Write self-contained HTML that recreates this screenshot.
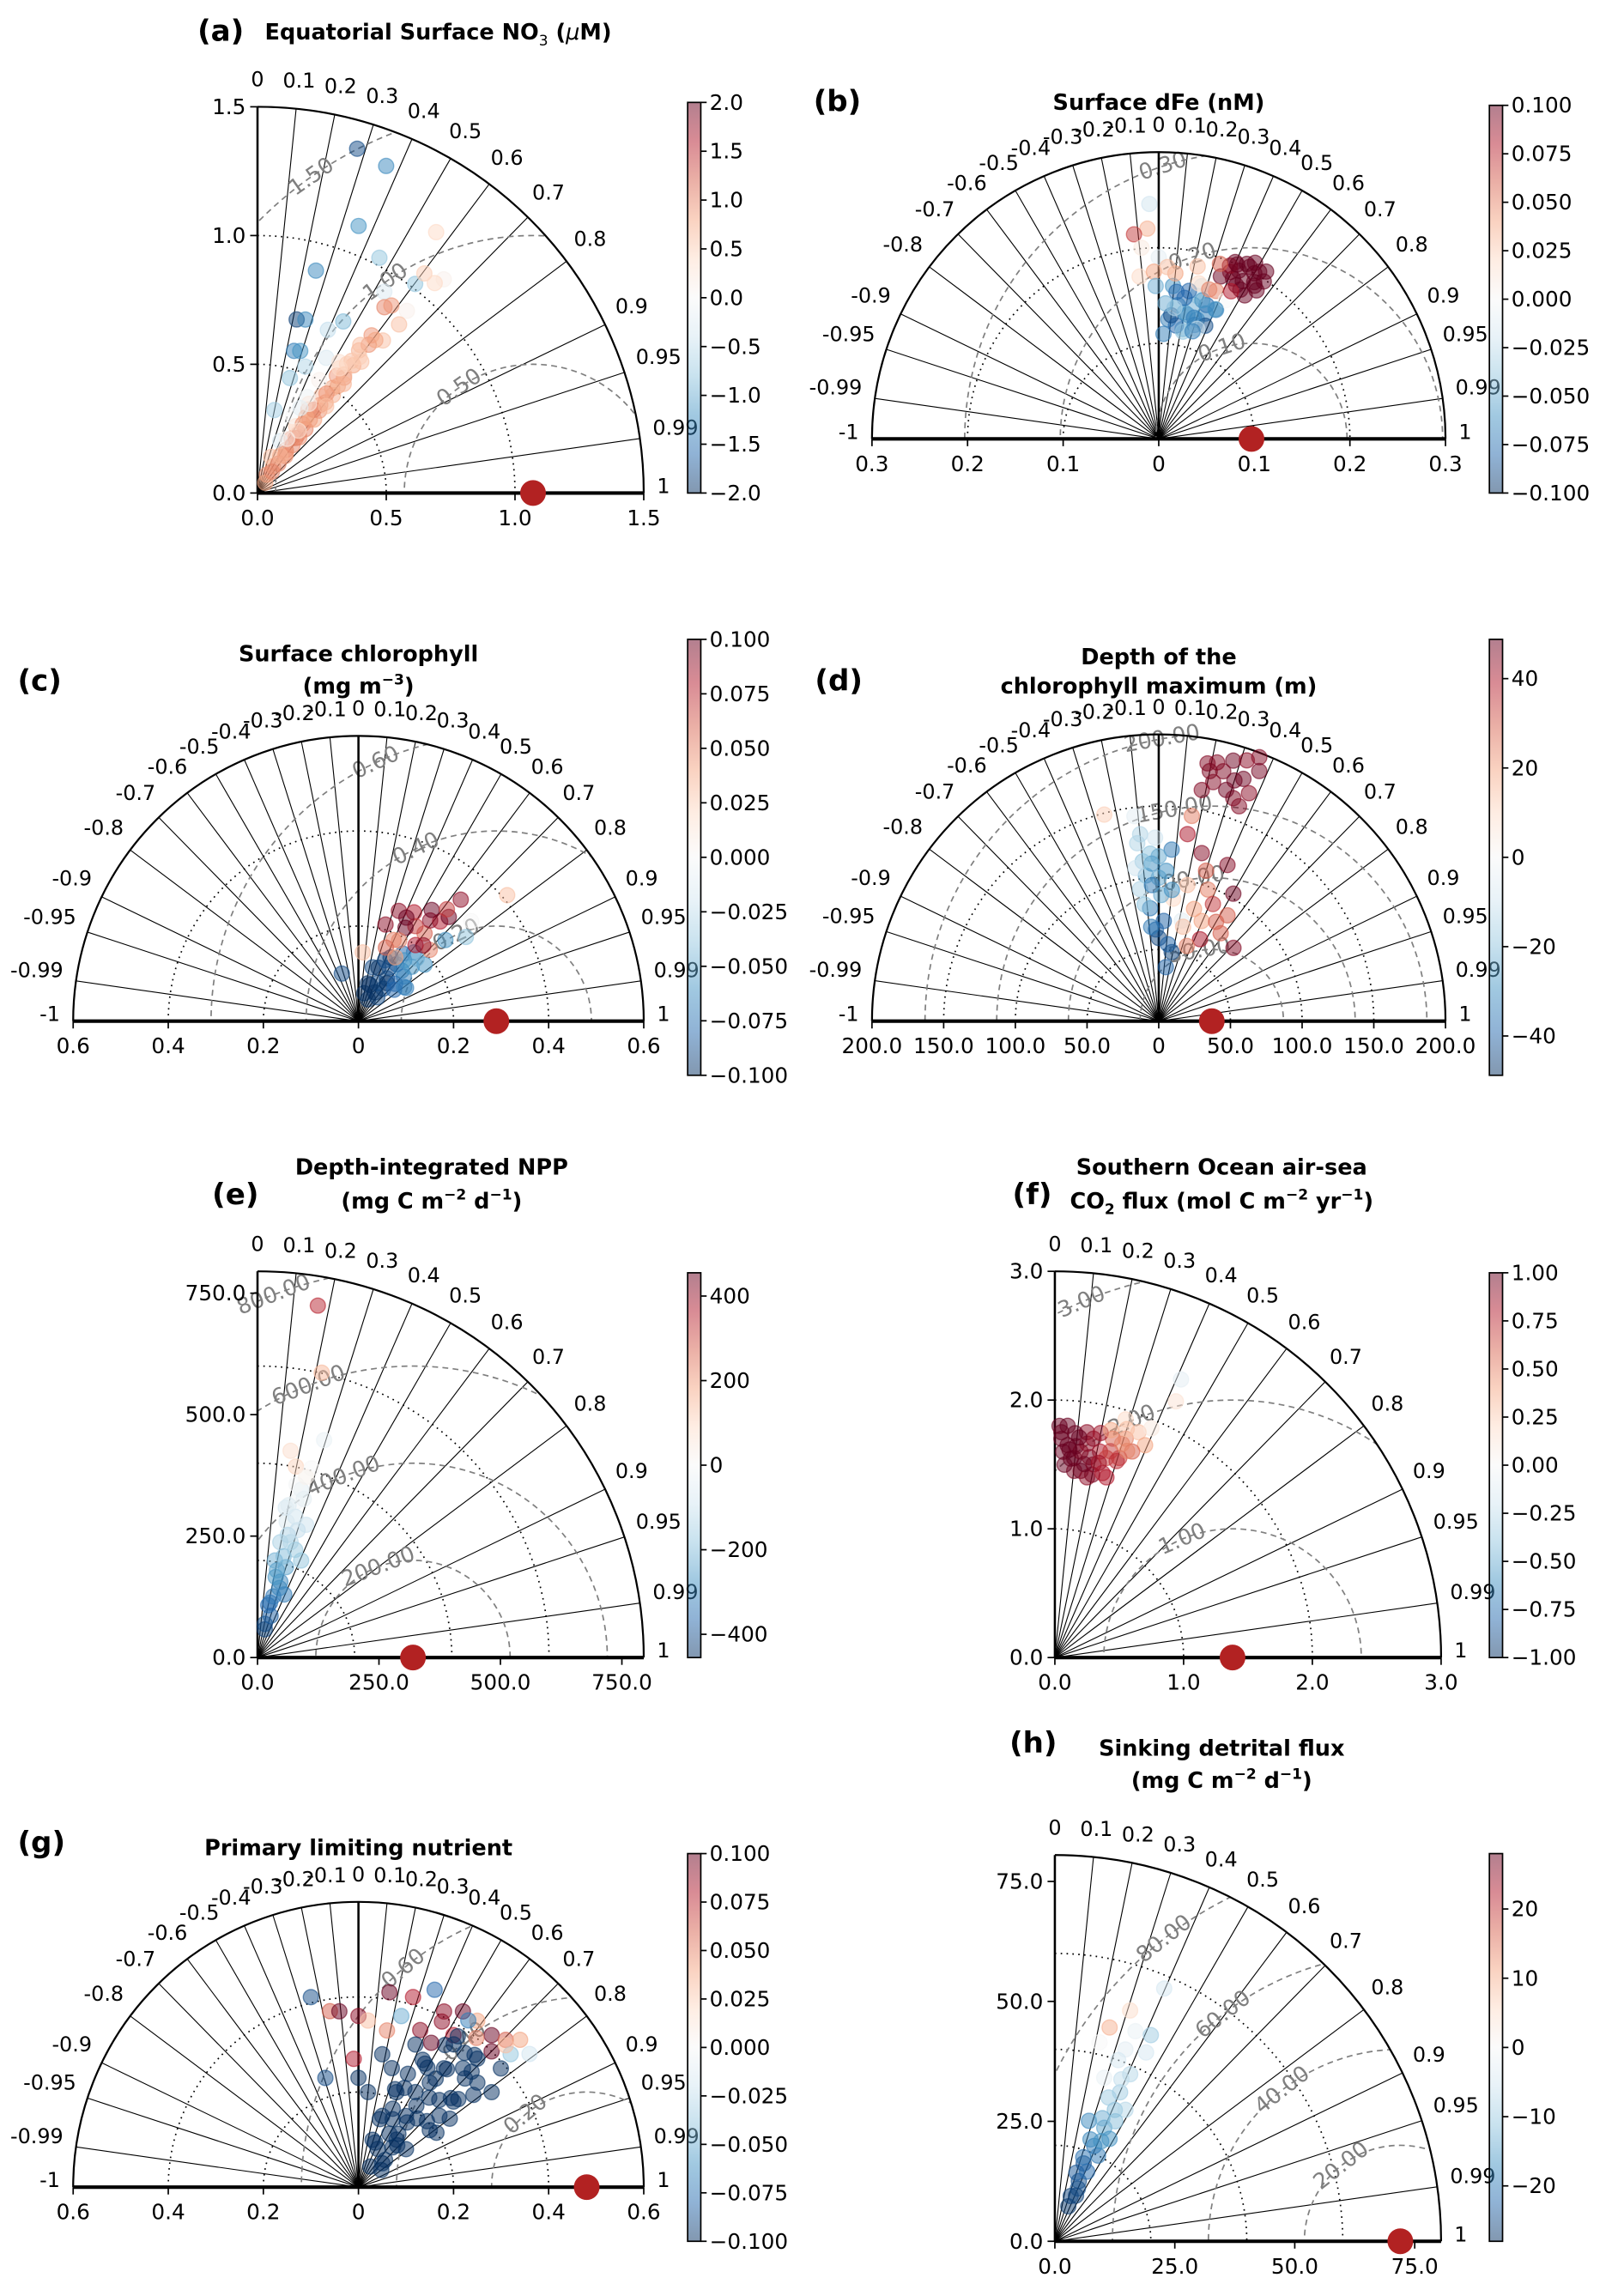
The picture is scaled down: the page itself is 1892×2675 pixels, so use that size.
<!DOCTYPE html>
<html><head><meta charset="utf-8">
<style>
html,body{margin:0;padding:0;background:#fff;width:1892px;height:2675px;overflow:hidden;}
svg{display:block;}
text{font-family:"DejaVu Sans","Liberation Sans",sans-serif;}
</style></head>
<body>
<svg id="fig" xmlns="http://www.w3.org/2000/svg" width="1892" height="2675" viewBox="0 0 1110 1569.4">
<g font-weight="bold" fill="#000">
  <text x="135" y="28" font-size="20">(a)</text>
  <text x="181" y="27" font-size="15">Equatorial Surface NO<tspan font-size="10" font-weight="normal" dy="4">3</tspan><tspan dy="-4"> (</tspan><tspan font-style="italic" font-weight="normal">μ</tspan>M)</text>
  <text x="556" y="76" font-size="20">(b)</text>
  <text x="792" y="75" font-size="15" text-anchor="middle">Surface dFe (nM)</text>
  <text x="12" y="472" font-size="20">(c)</text>
  <text x="245" y="452" font-size="15" text-anchor="middle">Surface chlorophyll</text>
  <text x="245" y="474" font-size="15" text-anchor="middle">(mg m<tspan font-size="10" dy="-6">−3</tspan><tspan dy="6">)</tspan></text>
  <text x="557" y="472" font-size="20">(d)</text>
  <text x="792" y="454" font-size="15" text-anchor="middle">Depth of the</text>
  <text x="792" y="474" font-size="15" text-anchor="middle">chlorophyll maximum (m)</text>
  <text x="145" y="823" font-size="20">(e)</text>
  <text x="295" y="803" font-size="15" text-anchor="middle">Depth-integrated NPP</text>
  <text x="295" y="826" font-size="15" text-anchor="middle">(mg C m<tspan font-size="10" dy="-6">−2</tspan><tspan dy="6"> d</tspan><tspan font-size="10" dy="-6">−1</tspan><tspan dy="6">)</tspan></text>
  <text x="692" y="823" font-size="20">(f)</text>
  <text x="835" y="803" font-size="15" text-anchor="middle">Southern Ocean air-sea</text>
  <text x="835" y="826" font-size="15" text-anchor="middle">CO<tspan font-size="10" dy="4">2</tspan><tspan dy="-4"> flux (mol C m</tspan><tspan font-size="10" dy="-6">−2</tspan><tspan dy="6"> yr</tspan><tspan font-size="10" dy="-6">−1</tspan><tspan dy="6">)</tspan></text>
  <text x="12" y="1266" font-size="20">(g)</text>
  <text x="245" y="1268" font-size="15" text-anchor="middle">Primary limiting nutrient</text>
  <text x="690" y="1198" font-size="20">(h)</text>
  <text x="835" y="1200" font-size="15" text-anchor="middle">Sinking detrital flux</text>
  <text x="835" y="1222" font-size="15" text-anchor="middle">(mg C m<tspan font-size="10" dy="-6">−2</tspan><tspan dy="6"> d</tspan><tspan font-size="10" dy="-6">−1</tspan><tspan dy="6">)</tspan></text>
</g>
</svg>
<script>
// ---------- data (std, correlation, colour value) ----------
const aStd=[1.392,1.365,1.109,0.893,1.029,1.228,1.017,1.071,1.101,1.067,0.924,0.874,0.895,0.915,0.855,0.691,0.699,0.745,0.69,0.756,0.767,0.57,0.576,0.589,0.525,0.464,0.329,0.12,0.2,0.28,0.35,0.42,0.5,0.56,0.62,0.68,0.72,0.45,0.38,0.3,0.25,0.55,0.65,0.75,0.6,0.5,0.42,0.33,0.22,0.15,0.08,0.05,
 0.1,0.14,0.18,0.23,0.27,0.31,0.36,0.4,0.44,0.48,0.52,0.57,0.63,0.66,0.7,0.47,0.39,0.32,0.26,0.19,0.43,0.54,0.61,0.35,0.29,0.4,0.58,0.24,0.17,0.37];
const aCorr=[0.278,0.366,0.354,0.254,0.46,0.565,0.602,0.605,0.657,0.645,0.533,0.564,0.581,0.634,0.643,0.22,0.266,0.447,0.396,0.586,0.635,0.249,0.288,0.453,0.354,0.271,0.2,0.5,0.55,0.57,0.58,0.58,0.58,0.6,0.6,0.58,0.6,0.55,0.52,0.5,0.53,0.56,0.62,0.61,0.53,0.48,0.46,0.42,0.4,0.35,0.45,0.6,
 0.56,0.58,0.6,0.59,0.6,0.6,0.61,0.6,0.6,0.61,0.6,0.59,0.58,0.6,0.57,0.57,0.56,0.55,0.57,0.58,0.62,0.62,0.57,0.54,0.55,0.5,0.55,0.48,0.52,0.45];
const aVal=[-1.8,-1.3,-1.2,-1.3,-0.8,0.4,-0.8,0.5,0.1,0.4,-0.3,1.0,0.9,0.1,0.6,-1.9,-1.3,-0.9,-0.5,0.9,0.6,-1.4,-1.2,-0.3,-0.6,-0.8,-0.7,0.8,0.9,1.0,0.9,1.0,0.8,0.9,0.8,0.7,0.9,0.6,0.7,0.5,0.9,0.9,0.6,0.8,0.3,0.1,-0.1,0.0,-0.3,0.6,0.9,0.8,
 1.0,1.0,0.9,1.0,0.9,1.0,0.8,0.9,0.8,0.7,0.8,0.7,0.6,0.5,0.6,0.9,1.0,0.9,1.0,0.9,0.6,0.7,0.5,0.8,0.3,0.2,0.4,0.1,0.7,-0.2];

const bStd=[0.2016,0.2035,0.204,0.189,0.187,0.19,0.198,0.182,0.175,0.166,0.1414,0.1334,0.131,0.1487,0.1254,0.1177,0.1477,0.155,0.1607,0.11,0.161,0.166,0.246,0.2203,0.2156,0.2008,0.171,0.19,0.175,
 0.195,0.2,0.205,0.21,0.185,0.192,0.18,0.196,0.178,0.186,0.172,0.2,0.208,0.194,
 0.12,0.125,0.13,0.135,0.14,0.145,0.15,0.115,0.128,0.138,0.152,0.158,0.142,0.132,0.122,0.148,0.155,0.118,0.168,0.174,0.18,0.16,0.165,0.185];
const bCorr=[0.397,0.467,0.515,0.53,0.47,0.394,0.555,0.357,0.514,0.361,0.141,0.225,0.305,0.336,0.08,0.212,0.406,0.258,0.093,0.045,0.435,0.271,-0.04,-0.054,-0.12,-0.09,-0.117,0,-0.029,
 0.43,0.5,0.45,0.48,0.42,0.52,0.45,0.38,0.48,0.55,0.44,0.41,0.54,0.33,
 0.15,0.3,0.1,0.2,0.35,0.25,0.18,0.22,0.38,0.12,0.3,0.2,0.05,0.28,0.33,0.4,0.12,0.3,0.25,0.1,0.05,-0.02,0.32,0.22];
const bVal=[0.1,0.1,0.1,0.1,0.1,0.09,0.1,0.1,0.1,0.05,-0.06,-0.07,-0.06,-0.08,-0.07,-0.05,-0.07,-0.03,-0.06,-0.07,0,-0.02,-0.02,0.035,0.07,0.01,0.02,-0.01,0.04,
 0.1,0.1,0.1,0.1,0.1,0.1,0.1,0.09,0.1,0.1,0.08,0.1,0.1,0.06,
 -0.08,-0.07,-0.09,-0.06,-0.07,-0.05,-0.08,-0.04,-0.09,-0.03,-0.06,-0.08,-0.05,-0.07,-0.02,-0.06,-0.08,-0.07,0.02,0.04,0.03,-0.05,0.05,0.03];

const cStd=[0.247,0.334,0.257,0.211,0.271,0.231,0.41,0.317,0.287,0.25,0.186,0.186,0.145,0.117,0.106,0.134,0.086,0.183,0.108,0.082,0.144,0.122,0.064,0.212,0.233,0.29,
 0.05,0.07,0.09,0.1,0.11,0.12,0.13,0.14,0.15,0.16,0.17,0.18,0.06,0.08,0.1,0.12,0.14,0.16,0.2,0.22,0.26,0.28,0.3,0.24,0.19,0.165,0.155,0.21];
const cCorr=[0.344,0.644,0.455,0.27,0.634,0.602,0.763,0.748,0.787,0.731,0.628,0.397,0.062,0.256,-0.33,0.714,0.608,0.76,0.555,0.24,0.555,0.82,0.62,0.707,0.514,0.655,
 0.4,0.5,0.45,0.6,0.7,0.35,0.5,0.65,0.45,0.7,0.55,0.68,0.2,0.3,0.75,0.8,0.4,0.6,0.6,0.45,0.58,0.55,0.62,0.42,0.45,0.35,0.5,0.65];
const cVal=[0.09,0.09,0.08,0.09,0.08,0.06,0.03,0.0,-0.04,-0.06,-0.06,0.05,0.03,-0.09,-0.09,-0.07,-0.09,-0.06,-0.09,-0.1,-0.08,-0.07,-0.09,0.05,0.07,0.1,
 -0.1,-0.1,-0.09,-0.1,-0.08,-0.1,-0.09,-0.07,-0.1,-0.06,-0.08,-0.05,-0.1,-0.1,-0.08,-0.07,-0.09,-0.06,0.08,0.1,0.09,0.1,0.07,0.1,0.05,0.06,0.04,0.09];

const dStd=[183,189,197,180,179,171,188,164,171,164,145,132,121,119,103,88,76,75,73,131,117,120,102,93,79,64,49,38,72,149,144,100,86,97,110,
 176,185,192,168,160,178,
 125,112,105,95,88,82,70,58,108,92,66,54,128,115,
 98,90,82,110,64,80,68,56];
const dCorr=[0.186,0.275,0.356,0.25,0.33,0.222,0.373,0.317,0.368,0.183,0.159,0.152,0.248,0.403,0.505,0.545,0.394,0.576,0.714,-0.099,-0.051,0.075,-0.088,-0.14,-0.076,-0.031,0.184,0.13,0.223,-0.255,-0.118,0,0.117,0.206,-0.045,
 0.3,0.22,0.32,0.28,0.35,0.2,
 -0.12,-0.1,0.05,-0.05,0.02,-0.12,0.05,0.0,-0.15,0.1,-0.08,0.12,-0.02,0.0,
 0.35,0.42,0.3,0.3,0.45,0.5,0.25,0.35];
const dVal=[45,48,45,46,48,45,47,46,44,45,25,40,45,45,48,30,20,30,45,-15,-20,-35,-25,-15,-35,-40,-45,-40,-5,12,-5,-25,10,15,-30,
 48,45,44,48,45,46,
 -15,-20,-30,-35,-25,-20,-40,-45,-10,-30,-35,-40,-10,-25,
 25,35,20,30,40,30,15,25];

const eStd=[735,601,468,431,401,405,357,314,291,242,219,203,163,116,71,247,286,330,184,141,
 60,90,110,130,150,170,195,215,235,260,275,300,320,340,365,385];
const eCorr=[0.169,0.22,0.293,0.158,0.197,0.274,0.252,0.185,0.344,0.194,0.41,0.177,0.288,0.224,0.212,0.276,0.21,0.24,0.217,0.39,
 0.25,0.3,0.2,0.25,0.3,0.22,0.3,0.25,0.33,0.24,0.3,0.26,0.2,0.28,0.22,0.26];
const eVal=[350,150,-30,80,100,0,-50,-80,-100,-150,-180,-220,-300,-350,-400,-130,-60,-20,-250,-320,
 -420,-380,-360,-330,-300,-270,-240,-200,-170,-140,-110,-90,-60,-40,-10,20];

const fStd=[1.751,1.653,1.557,1.464,1.422,1.53,1.612,1.638,1.601,1.759,1.787,1.867,1.792,1.709,1.629,1.726,1.803,1.458,2.372,2.201,1.932,1.93,1.768,1.456,
 1.5,1.55,1.6,1.65,1.7,1.75,1.8,1.45,1.52,1.58,1.62,1.68,1.72,1.78,1.48,1.55,1.66,1.74,1.6,1.7,1.82,1.86];
const fCorr=[0.029,0.06,0.096,0.137,0.176,0.196,0.124,0.214,0.25,0.256,0.308,0.348,0.391,0.351,0.307,0.174,0.055,0.103,0.413,0.427,0.388,0.285,0.141,0.275,
 0.05,0.08,0.04,0.1,0.03,0.09,0.02,0.2,0.15,0.17,0.07,0.15,0.11,0.2,0.25,0.22,0.26,0.3,0.3,0.33,0.24,0.3];
const fVal=[1.0,1.0,1.0,1.0,0.9,0.9,0.9,0.8,0.7,0.6,0.5,0.3,0.4,0.6,0.7,0.9,1.0,0.95,-0.1,0.15,0.1,0.2,0.9,0.8,
 1.0,1.0,1.0,1.0,1.0,1.0,1.0,0.95,1.0,0.95,1.0,0.9,1.0,0.85,0.8,0.85,0.7,0.5,0.75,0.5,0.4,0.3];

const gStd=[0.412,0.415,0.445,0.416,0.375,0.372,0.36,0.351,0.371,0.411,0.43,0.43,0.425,0.438,0.46,0.456,0.425,0.377,0.355,0.335,0.27,0.24,0.23,0.071,0.128,0.18,0.233,0.266,0.308,0.333,0.368,0.39,0.344,0.269,0.192,0.128,0.158,0.201,0.104,0.26,0.323,0.361,0.227,0.333,0.215,0.295,0.284,
 0.05,0.09,0.11,0.14,0.16,0.19,0.21,0.24,0.27,0.29,0.31,0.34,0.36,0.38,0.1,0.13,0.17,0.2,0.23,0.25,0.28,0.3,0.32,0.35,0.37,0.15,0.18,0.22,0.26,0.06,0.08,0.12,0.2,0.24,0.28,0.31,0.34,0.39,0.4,0.42,0.4,0.43];
const gCorr=[-0.243,0.157,0.36,0.276,-0.16,-0.108,0,0.057,0.243,0.438,0.511,0.581,0.659,0.707,0.739,0.789,0.753,0.53,0.366,0.179,-0.037,-0.29,0,0.707,0.625,0.555,0.514,0.564,0.584,0.66,0.679,0.768,0.814,0.743,0.781,0.781,0.316,0.1,0.287,0.27,0.371,0.555,0.75,0.751,0.371,0.474,0.176,
 0.5,0.45,0.65,0.6,0.45,0.65,0.58,0.62,0.72,0.5,0.6,0.7,0.62,0.55,0.35,0.5,0.6,0.72,0.42,0.68,0.58,0.45,0.7,0.52,0.66,0.3,0.4,0.35,0.4,0.8,0.7,0.68,0.82,0.8,0.75,0.78,0.45,0.45,0.62,0.55,0.7,0.72];
const gVal=[-0.09,0.1,-0.08,0.08,0.06,0.1,0.09,0.03,-0.05,0.09,0.1,0.04,0.1,0.06,0.04,-0.02,-0.04,0.08,0.09,0.05,0.08,-0.09,-0.1,-0.1,-0.1,-0.1,-0.1,-0.1,-0.1,-0.1,-0.1,-0.1,-0.1,-0.1,-0.1,-0.1,-0.1,-0.1,-0.1,-0.1,-0.1,-0.1,-0.1,-0.1,-0.1,-0.1,-0.1,
 -0.1,-0.1,-0.1,-0.1,-0.1,-0.1,-0.1,-0.1,-0.1,-0.1,-0.1,-0.1,-0.1,-0.1,-0.1,-0.1,-0.1,-0.1,-0.1,-0.1,-0.1,-0.1,-0.1,-0.1,-0.1,-0.1,-0.1,-0.1,-0.1,-0.1,-0.1,-0.1,-0.1,-0.1,-0.1,-0.1,0.1,0.09,0.05,-0.07,0.1,0.03];

const hStd=[57.4,50.6,46,46.9,47.4,42.5,42.6,43.7,38.2,33.9,30.1,25.8,26.1,21.5,17.3,13.5,7.8,24.2,31.1,35.6,
 10,12,15,16,18.5,20,22.5,23,27.5,28,32,36.5,40,10.5];
const hCorr=[0.397,0.31,0.248,0.358,0.422,0.219,0.345,0.435,0.411,0.401,0.415,0.399,0.272,0.381,0.347,0.37,0.359,0.471,0.473,0.289,
 0.33,0.4,0.3,0.42,0.32,0.45,0.33,0.42,0.36,0.45,0.35,0.38,0.33,0.42];
const hVal=[-5,5,10,-2,-10,0,-3,-5,-8,-10,-12,-15,-18,-20,-25,-25,-27,-17,-8,-2,
 -26,-25,-24,-22,-21,-20,-18,-17,-14,-12,-10,-7,-5,-26];

// reference std values
const refStd={a:1.07,b:0.097,c:0.29,d:37,e:320,f:1.38,g:0.48,h:72};

// ---------- layout ----------
const NS="http://www.w3.org/2000/svg";
const svg=document.getElementById('fig');
function el(tag,attrs,parent){const e=document.createElementNS(NS,tag);for(const k in attrs)e.setAttribute(k,attrs[k]);(parent||svg).appendChild(e);return e;}
const STOPS=[[0,[5,48,97]],[0.1,[33,102,172]],[0.2,[67,147,195]],[0.3,[146,197,222]],[0.4,[209,229,240]],[0.5,[247,247,247]],[0.6,[253,219,199]],[0.7,[244,165,130]],[0.8,[214,96,77]],[0.9,[178,24,43]],[1,[103,0,31]]];
function cmap(t){t=Math.max(0,Math.min(1,t));for(let i=1;i<STOPS.length;i++){if(t<=STOPS[i][0]){const a=STOPS[i-1],b=STOPS[i],f=(t-a[0])/(b[0]-a[0]);const c=a[1].map((v,j)=>Math.round(v+(b[1][j]-v)*f));return `rgb(${c[0]},${c[1]},${c[2]})`;}}return 'rgb(103,0,31)';}
function fmtCorr(r){return r===0?'0':String(r);}
function textW(s,fs){let w=0;for(const ch of s){w+=(ch==='.'?0.318:ch==='-'?0.36:0.636)*fs;}return w;}

const panels=[
 {id:'a',cx:176,cy:337,R:264,max:1.5,two:false,rms:[0.5,1,1.5],dots:[0.5,1],ticks:[0,0.5,1,1.5],tf:v=>v.toFixed(1),labAng:125,std:aStd,corr:aCorr,val:aVal,
  cb:{x:470,y0:70,y1:337,vmin:-2,vmax:2,ticks:[-2,-1.5,-1,-0.5,0,0.5,1,1.5,2],f:v=>v.toFixed(1)}},
 {id:'b',cx:792,cy:300,R:196,max:0.3,two:true,rms:[0.1,0.2,0.3],dots:[0.1,0.2],ticks:[-0.3,-0.2,-0.1,0,0.1,0.2,0.3],tf:v=>v===0?'0':Math.abs(v).toFixed(1),labAng:108,std:bStd,corr:bCorr,val:bVal,
  cb:{x:1018,y0:72,y1:337,vmin:-0.1,vmax:0.1,ticks:[-0.1,-0.075,-0.05,-0.025,0,0.025,0.05,0.075,0.1],f:v=>v.toFixed(3)}},
 {id:'c',cx:245,cy:698,R:195,max:0.6,two:true,rms:[0.2,0.4,0.6],dots:[0.2,0.4],ticks:[-0.6,-0.4,-0.2,0,0.2,0.4,0.6],tf:v=>v===0?'0':Math.abs(v).toFixed(1),labAng:115,std:cStd,corr:cCorr,val:cVal,
  cb:{x:470,y0:437,y1:735,vmin:-0.1,vmax:0.1,ticks:[-0.1,-0.075,-0.05,-0.025,0,0.025,0.05,0.075,0.1],f:v=>v.toFixed(3)}},
 {id:'d',cx:792,cy:698,R:196,max:200,two:true,rms:[50,100,150,200],dots:[50,100,150],ticks:[-200,-150,-100,-50,0,50,100,150,200],tf:v=>v===0?'0':Math.abs(v).toFixed(1),labAng:100,std:dStd,corr:dCorr,val:dVal,
  cb:{x:1018,y0:437,y1:735,vmin:-48.8,vmax:48.8,ticks:[-40,-20,0,20,40],f:v=>String(v)}},
 {id:'e',cx:176,cy:1133,R:264,max:795,two:false,rms:[200,400,600,800],dots:[200,400,600],ticks:[0,250,500,750],tf:v=>v.toFixed(1),labAng:111,std:eStd,corr:eCorr,val:eVal,
  cb:{x:470,y0:870,y1:1133,vmin:-455,vmax:455,ticks:[-400,-200,0,200,400],f:v=>String(v)}},
 {id:'f',cx:721,cy:1133,R:264,max:3,two:false,rms:[1,2,3],dots:[1,2],ticks:[0,1,2,3],tf:v=>v.toFixed(1),labAng:113,std:fStd,corr:fCorr,val:fVal,
  cb:{x:1018,y0:870,y1:1133,vmin:-1,vmax:1,ticks:[-1,-0.75,-0.5,-0.25,0,0.25,0.5,0.75,1],f:v=>v.toFixed(2)}},
 {id:'g',cx:245,cy:1495,R:195,max:0.6,two:true,rms:[0.2,0.4,0.6],dots:[0.2,0.4],ticks:[-0.6,-0.4,-0.2,0,0.2,0.4,0.6],tf:v=>v===0?'0':Math.abs(v).toFixed(1),labAng:130,std:gStd,corr:gCorr,val:gVal,
  cb:{x:470,y0:1267,y1:1532,vmin:-0.1,vmax:0.1,ticks:[-0.1,-0.075,-0.05,-0.025,0,0.025,0.05,0.075,0.1],f:v=>v.toFixed(3)}},
 {id:'h',cx:721,cy:1532,R:264,max:80.5,two:false,rms:[20,40,60,80],dots:[20,40,60],ticks:[0,25,50,75],tf:v=>v.toFixed(1),labAng:128,std:hStd,corr:hCorr,val:hVal,
  cb:{x:1018,y0:1267,y1:1532,vmin:-28,vmax:28,ticks:[-20,-10,0,20,10],f:v=>String(v)}}
];

const defs=el('defs',{});
const grad=el('linearGradient',{id:'cbgrad',x1:0,y1:1,x2:0,y2:0},defs);
for(let i=0;i<=20;i++){el('stop',{offset:i/20,'stop-color':cmap(i/20),'stop-opacity':0.5},grad);}

panels.forEach(P=>{
  const g=el('g',{});
  
  
  const k=P.R/P.max;
  const X=(s,r)=>P.cx+s*k*r;
  const Y=(s,r)=>P.cy-s*k*Math.sqrt(Math.max(0,1-r*r));
  const sx=v=>P.cx+v*k;
  const cp=el('clipPath',{id:'clip'+P.id},defs);
  const sector=P.two?`M${P.cx-P.R},${P.cy} A${P.R},${P.R} 0 0 1 ${P.cx+P.R},${P.cy} Z`:`M${P.cx},${P.cy} L${P.cx+P.R},${P.cy} A${P.R},${P.R} 0 0 0 ${P.cx},${P.cy-P.R} Z`;
  el('path',{d:sector},cp);
  const cors=[0.1,0.2,0.3,0.4,0.5,0.6,0.7,0.8,0.9,0.95,0.99];
  const all=P.two?cors.concat(cors.map(c=>-c)):cors;
  all.forEach(r=>{const th=Math.acos(r);
    const ln=el('line',{x1:P.cx,y1:P.cy,x2:P.cx+P.R*Math.cos(th),y2:P.cy-P.R*Math.sin(th),stroke:'#000','stroke-width':0.65},g);
    
    
  });
  const labs=(P.two?cors.map(c=>-c).concat([-1]):[]).concat([0],cors,[1]);
  labs.forEach(r=>{const th=Math.acos(r);const s=fmtCorr(r);const w=textW(s,14);
    const ex=P.cx+P.R*Math.cos(th),ey=P.cy-P.R*Math.sin(th);
    const t=el('text',{x:ex+(9+w/2)*Math.cos(th),y:ey-(19*Math.sin(th)+5*Math.abs(Math.cos(th)))+5,'font-size':14,'text-anchor':'middle'},g);
    t.textContent=s;
    
    
  });
  P.dots.forEach(s=>{const rr=s*k;
    const d=P.two?`M${P.cx-rr},${P.cy} A${rr},${rr} 0 0 1 ${P.cx+rr},${P.cy}`:`M${P.cx},${P.cy-rr} A${rr},${rr} 0 0 1 ${P.cx+rr},${P.cy}`;
    const p=el('path',{d:d,fill:'none',stroke:'#000','stroke-width':1,'stroke-dasharray':'1 3'},g);
    
    
  });
  const rx=sx(refStd[P.id]);
  const cg=el('g',{'clip-path':`url(#clip${P.id})`},g);
  P.rms.forEach(v=>{
    const c=el('circle',{cx:rx,cy:P.cy,r:v*k,fill:'none',stroke:'#7f7f7f','stroke-width':1,'stroke-dasharray':'4 3'},cg);
    
    
    const a=P.labAng*Math.PI/180;
    const lx=rx+v*k*Math.cos(a),ly=P.cy-v*k*Math.sin(a);
    const t=el('text',{x:lx,y:ly,'font-size':15,fill:'#7f7f7f','text-anchor':'middle','dominant-baseline':'central'},g);
    t.setAttribute('transform',`rotate(${-(P.labAng-90)} ${lx} ${ly})`);
    t.textContent=v.toFixed(2);
    
    
  });
  const oa=el('path',{d:sector.replace(' Z','').replace(`M${P.cx},${P.cy} L${P.cx+P.R},${P.cy} `,`M${P.cx+P.R},${P.cy} `),fill:'none',stroke:'#000','stroke-width':1.3},g);
  
  
  if(P.two){
    const ax=el('line',{x1:P.cx-P.R,y1:P.cy,x2:P.cx+P.R,y2:P.cy,stroke:'#000','stroke-width':2.4},g);
    
    
    const vl=el('line',{x1:P.cx,y1:P.cy,x2:P.cx,y2:P.cy-P.R,stroke:'#000','stroke-width':1.5},g);
    
    
  } else {
    const ax=el('line',{x1:P.cx,y1:P.cy,x2:P.cx+P.R,y2:P.cy,stroke:'#000','stroke-width':2.4},g);
    
    
    const ay=el('line',{x1:P.cx,y1:P.cy,x2:P.cx,y2:P.cy-P.R,stroke:'#000','stroke-width':1.5},g);
    
    
    P.ticks.forEach(v=>{const yy=P.cy-v*k;
      el('line',{x1:P.cx-5,y1:yy,x2:P.cx,y2:yy,stroke:'#000','stroke-width':1},g);
      const t=el('text',{x:P.cx-8,y:yy+5,'font-size':14.5,'text-anchor':'end'},g);
      t.textContent=P.tf(v);
      
      
    });
  }
  P.ticks.forEach(v=>{const xx=sx(v);
    el('line',{x1:xx,y1:P.cy,x2:xx,y2:P.cy+5,stroke:'#000','stroke-width':1},g);
    const t=el('text',{x:xx,y:P.cy+22,'font-size':14.5,'text-anchor':'middle'},g);
    t.textContent=P.tf(v);
    
    
  });
  P.std.forEach((s,i)=>{const r=P.corr[i];const col=cmap((P.val[i]-P.cb.vmin)/(P.cb.vmax-P.cb.vmin));
    const c=el('circle',{cx:X(s,r),cy:Y(s,r),r:5.2,fill:col,'fill-opacity':0.5,stroke:col,'stroke-opacity':0.6,'stroke-width':0.8},g);
    
    
  });
  const rp=el('circle',{cx:rx,cy:P.cy,r:8.8,fill:'#b22222'},g);
  
  
  const C=P.cb;
  const cb=el('rect',{x:C.x,y:C.y0,width:9,height:C.y1-C.y0,fill:'url(#cbgrad)',stroke:'#000','stroke-width':1},g);
  
  
  C.ticks.forEach(v=>{const yy=C.y1-(v-C.vmin)/(C.vmax-C.vmin)*(C.y1-C.y0);
    el('line',{x1:C.x+9,y1:yy,x2:C.x+13,y2:yy,stroke:'#000','stroke-width':1},g);
    const t=el('text',{x:C.x+15,y:yy+5,'font-size':14.5},g);
    t.textContent=C.f(v).replace('-','−');
    
    
  });
});
</script>
</body></html>
